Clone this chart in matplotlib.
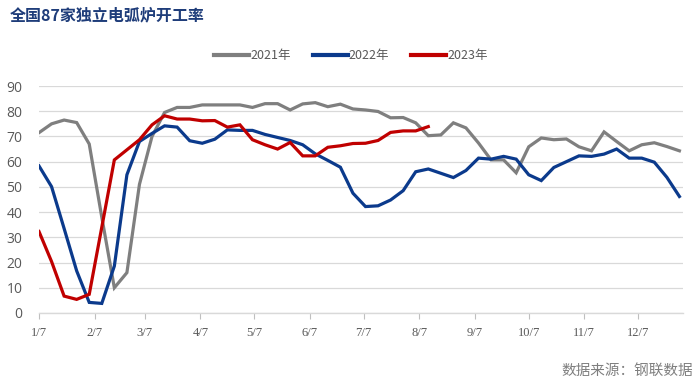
import matplotlib
matplotlib.use("Agg")
import matplotlib.pyplot as plt
from matplotlib.lines import Line2D

plt.rcParams['font.family'] = ['Noto Sans CJK SC', 'DejaVu Sans']

title = "全国87家独立电弧炉开工率"
source = "数据来源：钢联数据"
series_names = ["2021年", "2022年", "2023年"]
tick_labels = ["1/7", "2/7", "3/7", "4/7", "5/7", "6/7", "7/7", "8/7", "9/7", "10/7", "11/7", "12/7"]
tick_days = [0, 31, 59, 90, 120, 151, 181, 212, 243, 273, 304, 334]

y2021 = [71.5, 75, 76.5, 75.5, 67, 38, 10, 16, 51, 70, 79.5, 81.5, 81.5, 82.5, 82.5, 82.5,
         82.5, 81.5, 83, 83, 80.5, 82.9, 83.4, 81.8, 82.8, 80.9, 80.5, 79.9, 77.4, 77.5, 75.4,
         70.3, 70.6, 75.4, 73.4, 67.4, 60.7, 60.7, 55.6, 65.9, 69.4, 68.7, 69, 65.9, 64.3,
         71.8, 68, 64.3, 66.7, 67.5, 66, 64.3]
y2022 = [58.3, 50.1, 33.5, 16.7, 4.2, 3.8, 18.6, 54.8, 68, 71.2, 74.2, 73.7, 68.3, 67.3, 68.9,
         72.6, 72.4, 72.4, 70.8, 69.6, 68.4, 66.7, 63.1, 60.5, 57.8, 47.5, 42.2, 42.5, 44.8,
         48.5, 56, 57.1, 55.4, 53.7, 56.5, 61.4, 61, 62.1, 61, 54.8, 52.5, 57.7, 60, 62.3,
         62.1, 63, 65, 61.4, 61.4, 59.8, 53.8, 46.2]
y2023 = [32.3, 20.4, 6.7, 5.4, 7.4, 34, 60.7, 64.7, 68.7, 74.6, 78.2, 76.9, 76.9, 76.2, 76.3,
         73.7, 74.6, 68.7, 66.7, 65, 67.6, 62.3, 62.3, 65.7, 66.3, 67.2, 67.3, 68.4, 71.6,
         72.2, 72.2, 73.9]

colors = ["#7f7f7f", "#0b3a8c", "#c00000"]

fig = plt.figure(figsize=(7.0, 3.82), dpi=100)
ax = fig.add_axes([39/700, 69/382, (683-39)/700, (296-69)/382])

for ys, c, name in zip([y2021, y2022, y2023], colors, series_names):
    xs = [7 * i for i in range(len(ys))]
    ax.plot(xs, ys, color=c, lw=2.3, solid_joinstyle='miter', label=name, zorder=3)

ax.set_xlim(0, 359)
ax.set_ylim(0, 90)
ax.set_yticks(range(0, 91, 10))
ax.grid(axis='y', color='#d9d9d9', lw=0.9, zorder=0)
ax.set_xticks(tick_days)
ax.set_xticklabels(tick_labels, family='Liberation Serif', fontsize=9, color='#595959')
ax.tick_params(axis='x', length=4, width=0.8, color='#bfbfbf', pad=6, direction='out')
ax.tick_params(axis='y', length=0, labelsize=10, colors='#595959', pad=12)
for lbl in ax.get_yticklabels():
    lbl.set_family(['Open Sans', 'DejaVu Sans'])
for s in ['left', 'right', 'top']:
    ax.spines[s].set_visible(False)
ax.spines['bottom'].set_color('#d9d9d9')
ax.spines['bottom'].set_linewidth(1.0)

handles = [Line2D([0], [0], color=c, lw=3) for c in colors]
fig.legend(handles, series_names, loc='center', bbox_to_anchor=(351/700, 1 - 56/382),
           ncol=3, frameon=False, fontsize=9, handlelength=2.8, handletextpad=0.1,
           columnspacing=1.75, labelcolor='#595959')

fig.text(10/700, 1 - 15/382, title, fontsize=11.5, fontweight='bold', color='#1f3d7a',
         va='center', ha='left')
fig.text(693/700, 1 - 371/382, source, fontsize=10.5, color='#7f7f7f', va='center', ha='right')

fig.savefig("out.png", dpi=100)
